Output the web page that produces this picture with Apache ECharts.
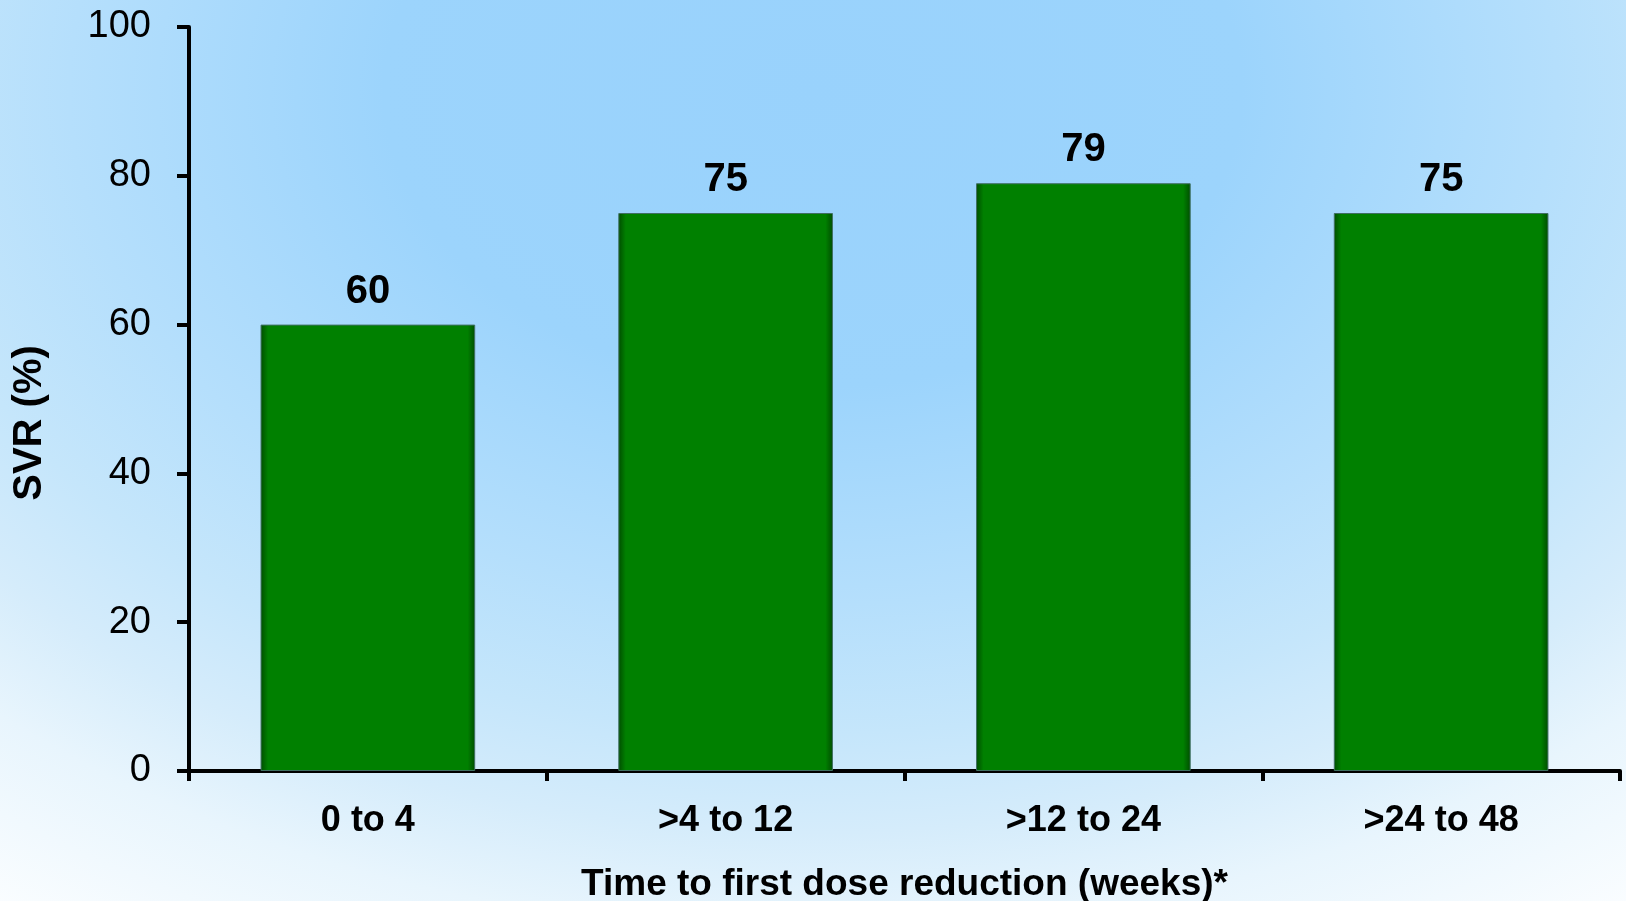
<!DOCTYPE html>
<html>
<head>
<meta charset="utf-8">
<script src="https://cdn.jsdelivr.net/npm/echarts@6/dist/echarts.min.js"></script>
<style>
  html, body { margin: 0; padding: 0; }
  body {
    width: 1626px; height: 901px; overflow: hidden;
    background: radial-gradient(ellipse 1430px 990px at 50% 10%,
      #99d2fc 0%, #9cd4fc 30%, #b5dffc 52%, #c5e6fb 65%, #d5ecfb 75%, #e8f5fd 85%, #fafdff 100%);
  }
  #chart { width: 1626px; height: 901px; }
</style>
</head>
<body>
<div id="chart"></div>
<script>
// Sustained virological response by time to first dose reduction
const categories = ['0 to 4', '>4 to 12', '>12 to 24', '>24 to 48'];
const svrValues = [60, 75, 79, 75];
const yTicks = { min: 0, max: 100, interval: 20 };

const FONT = '"Liberation Sans", Arial, Helvetica, sans-serif';

// bar fill: flat green with darker shaded side edges
const barFill = new echarts.graphic.LinearGradient(0, 0, 1, 0, [
  { offset: 0, color: '#004d00' },
  { offset: 0.035, color: '#008000' },
  { offset: 0.965, color: '#008000' },
  { offset: 1, color: '#004d00' }
]);

const chart = echarts.init(document.getElementById('chart'), null, { renderer: 'canvas' });
chart.setOption({
  backgroundColor: 'transparent',
  animation: false,
  grid: { left: 189, right: 6, top: 27, bottom: 130, containLabel: false, outerBoundsMode: 'none' },
  xAxis: {
    type: 'category',
    data: categories,
    boundaryGap: true,
    axisLine: { lineStyle: { color: '#000', width: 4 } },
    axisTick: { show: true, length: 10, lineStyle: { color: '#000', width: 4 } },
    axisLabel: { color: '#000', fontFamily: FONT, fontSize: 36, fontWeight: 'bold', margin: 32 },
    name: 'Time to first dose reduction (weeks)*',
    nameLocation: 'middle',
    nameGap: 95,
    nameTextStyle: { color: '#000', fontFamily: FONT, fontSize: 37, fontWeight: 'bold' }
  },
  yAxis: {
    type: 'value',
    min: yTicks.min,
    max: yTicks.max,
    interval: yTicks.interval,
    splitLine: { show: false },
    axisLine: { show: true, lineStyle: { color: '#000', width: 4 } },
    axisTick: { show: true, length: 12, lineStyle: { color: '#000', width: 4 } },
    axisLabel: { color: '#000', fontFamily: FONT, fontSize: 38, margin: 38 },
    name: 'SVR (%)',
    nameLocation: 'middle',
    nameGap: 139,
    nameRotate: 90,
    nameTextStyle: { color: '#000', fontFamily: FONT, fontSize: 40, fontWeight: 'bold', padding: [0, 48, 0, 0] }
  },
  series: [{
    type: 'bar',
    data: svrValues,
    barCategoryGap: '40%',
    itemStyle: { color: barFill, borderColor: '#3f6f62', borderWidth: 1 },
    label: {
      show: true,
      position: 'top',
      distance: 13,
      color: '#000',
      fontFamily: FONT,
      fontSize: 40,
      fontWeight: 'bold'
    }
  }]
});
</script>
</body>
</html>
